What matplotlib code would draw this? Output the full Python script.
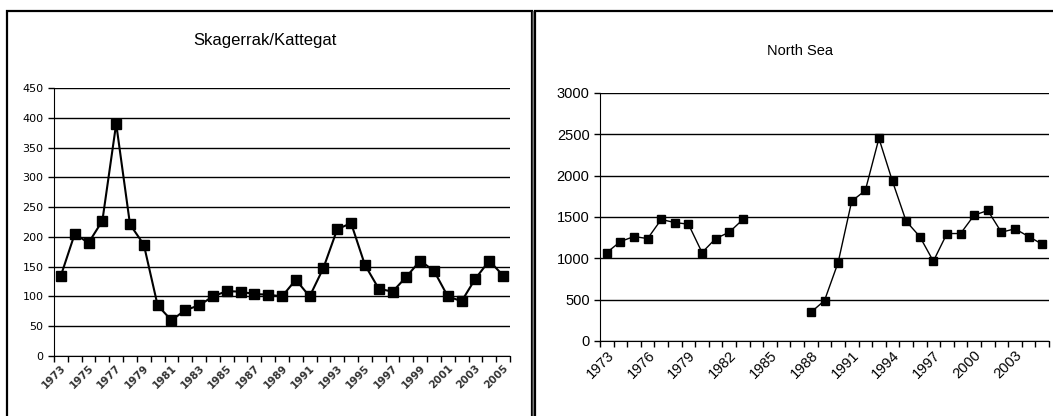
import numpy as np
import matplotlib
matplotlib.use("Agg")
import matplotlib.pyplot as plt
from matplotlib.patches import Rectangle
from matplotlib.ticker import FixedLocator
from matplotlib.transforms import ScaledTranslation

years = list(range(1973, 2006))

skagerrak = [135, 205, 190, 227, 390, 221, 187, 85, 60, 77, 85, 100, 109, 108,
             104, 103, 100, 128, 100, 148, 213, 223, 153, 113, 108, 133, 160, 143,
             100, 92, 130, 160, 135]

north_sea = [1070, 1203, 1264, 1239, 1470, 1433, 1413, 1070, 1239, 1316, 1470,
             None, None, None, None,
             347, 489, 949, 1692, 1821, 2451, 1930, 1449, 1264, 965, 1300, 1300,
             1522, 1579, 1316, 1357, 1264, 1171]

left_title = "Skagerrak/Kattegat"
right_title = "North Sea"
left_yticks = [0, 50, 100, 150, 200, 250, 300, 350, 400, 450]
right_yticks = [0, 500, 1000, 1500, 2000, 2500, 3000]

W, H = 1053, 416
fig = plt.figure(figsize=(W / 100, H / 100), dpi=100)
fig.patch.set_facecolor("white")


def fr(x0, y0, x1, y1):
    return [x0 / W, 1 - y1 / H, (x1 - x0) / W, (y1 - y0) / H]


# panel borders
fig.patches.append(Rectangle((6.5 / W, -0.05), (531.5 - 6.5) / W, 1.05 - 10.5 / H,
                             transform=fig.transFigure, fill=False, lw=1.6,
                             ec="black"))
fig.patches.append(Rectangle((533.0 / W, -0.05), 0.0, 1.05 - 10.5 / H,
                             transform=fig.transFigure, fill=False, lw=1.0,
                             ec="#888888"))
fig.patches.append(Rectangle((534.8 / W, -0.05), 0.6, 1.05 - 10.5 / H,
                             transform=fig.transFigure, fill=False, lw=1.6,
                             ec="black"))


def style_axes(ax, yticks, step, label_fs, ytick_fs, lab_color, shift):
    x = np.array(years, dtype=float)
    ax.set_xlim(x[0] - 0.5, x[-1] + 0.5)
    ax.set_ylim(yticks[0], yticks[-1])
    ax.set_yticks(yticks)
    ax.yaxis.grid(True, color="black", lw=1.0)
    ax.set_axisbelow(True)
    for s in ["top", "right"]:
        ax.spines[s].set_visible(False)
    ax.spines["left"].set_color("black")
    ax.spines["bottom"].set_color("black")
    ax.xaxis.set_minor_locator(FixedLocator(np.arange(x[0] - 0.5, x[-1] + 1.0, 1.0)))
    ax.set_xticks(years[::step])
    ax.set_xticklabels([str(y) for y in years[::step]], rotation=45, ha="right",
                       rotation_mode="anchor", fontsize=label_fs, color=lab_color)
    off = ScaledTranslation(-shift / 100, 0, fig.dpi_scale_trans)
    for lab in ax.get_xticklabels():
        lab.set_transform(lab.get_transform() + off)
    ax.tick_params(axis="x", which="major", length=0, pad=5)
    ax.tick_params(axis="x", which="minor", length=4, width=1, direction="out")
    ax.tick_params(axis="y", length=4, width=1, direction="out",
                   labelsize=ytick_fs)


# Left chart
axl = fig.add_axes(fr(54, 88, 510, 356))
axl.plot(years, skagerrak, color="black", lw=1.5, marker="s", ms=7,
         mfc="black", mec="black", clip_on=False, zorder=3)
style_axes(axl, left_yticks, 2, 7.5, 8, "#333333", 2)
for lab in axl.get_xticklabels():
    lab.set_fontweight("bold")
fig.text(265 / W, 1 - 40 / H, left_title, ha="center", va="center", fontsize=12,
         family="Liberation Sans")

# Right chart
ns = np.array([np.nan if v is None else v for v in north_sea], dtype=float)
axr = fig.add_axes(fr(600, 93, 1049, 341))
axr.plot(years, ns, color="black", lw=1.0, marker="s", ms=6,
         mfc="black", mec="black", clip_on=False, zorder=3)
style_axes(axr, right_yticks, 3, 10.5, 10.5, "black", 6)
for lab in axr.get_yticklabels() + axr.get_xticklabels():
    lab.set_family("Liberation Sans")
fig.text(800 / W, 1 - 51 / H, right_title, ha="center", va="center", fontsize=10.5,
         family="Liberation Sans")

fig.savefig("out.png", dpi=100)
